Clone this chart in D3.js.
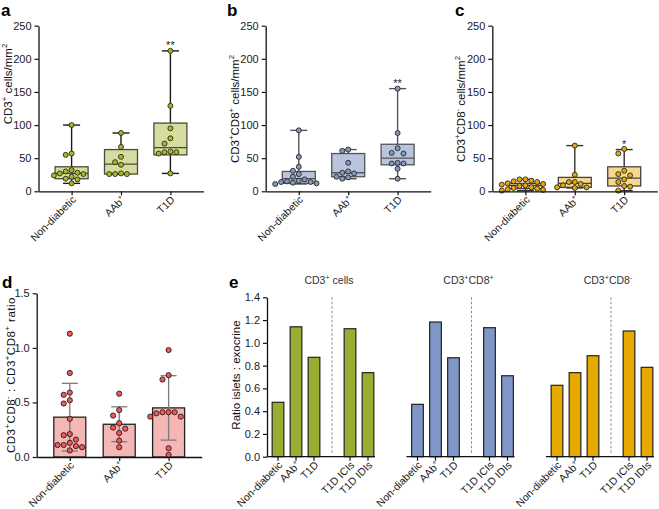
<!DOCTYPE html>
<html><head><meta charset="utf-8">
<script src="https://cdn.jsdelivr.net/npm/d3@7"></script>
<style>
body{margin:0;background:#fff}
svg{display:block;font-family:"Liberation Sans",Arial,Helvetica,sans-serif}
</style>
</head><body>
<svg id="chart" width="659" height="509"></svg>
<script>
// ---------------- DATA ----------------
const groups = ["Non-diabetic", "AAb^+", "T1D"];
const countTicks = [0, 50, 100, 150, 200, 250];

// panel a: CD3+ cells/mm2
const cd3Points = [
  [100, 57, 55, 32, 30, 28, 27, 26, 24, 22, 19, 18, 12],
  [88, 67, 52, 44, 40, 27, 26, 26, 26],
  [212, 129, 95, 80, 72, 60, 59, 59, 57, 27]
];
const cd3Box = [[12, 19, 27, 37, 100], [26, 26, 41, 63, 88], [27, 55, 66, 103, 212]]; // min,q1,med,q3,max
const cd3Sig = ["", "", "**"];

// panel b: CD3+CD8+ cells/mm2
const cd8posPoints = [
  [92, 52, 37, 31, 26, 22, 18, 16, 15, 14, 14, 13, 12, 11],
  [63, 61, 43, 30, 28, 27, 22, 21, 19],
  [155, 88, 65, 58, 57, 43, 42, 42, 34, 19]
];
const cd8posBox = [[11, 12, 19, 30, 92], [19, 22, 28, 57, 63], [19, 40, 50, 71, 155]];
const cd8posSig = ["", "", "**"];

// panel c: CD3+CD8- cells/mm2
const cd8negPoints = [
  [18, 18, 16, 15, 14, 12, 11, 10, 9, 8, 6, 5, 4, 3, 2, 1],
  [69, 25, 14, 14, 11, 9, 6, 6, 5],
  [64, 57, 31, 26, 24, 18, 14, 8, 7, 1]
];
const cd8negBox = [[1, 4, 9, 12, 18], [5, 6, 12, 21, 69], [1, 8, 20, 37, 63]];
const cd8negSig = ["", "", "*"];

// panel d: CD3+CD8- : CD3+CD8+ ratio
const ratioTicks = [0, 0.5, 1.0, 1.5];
const ratioMean = [0.365, 0.30, 0.45];
const ratioSD = [0.31, 0.16, 0.295];
const ratioPoints = [
  [1.13, 0.77, 0.59, 0.57, 0.52, 0.49, 0.35, 0.21, 0.20, 0.16, 0.13, 0.11, 0.11, 0.10, 0.09, 0.06],
  [0.58, 0.43, 0.38, 0.31, 0.27, 0.26, 0.22, 0.15, 0.09],
  [0.98, 0.75, 0.71, 0.41, 0.41, 0.41, 0.40, 0.37, 0.37, 0.08, 0.02]
];

// panel e: ratio islets : exocrine
const eCategories = ["Non-diabetic", "AAb^+", "T1D", "T1D ICIs", "T1D IDIs"];
const eTicks = [0, 0.2, 0.4, 0.6, 0.8, 1.0, 1.2, 1.4];
const eTitles = ["CD3^+ cells", "CD3^+CD8^+", "CD3^+CD8^-"];
const eCD3 = [0.478, 1.141, 0.873, 1.124, 0.738];
const eCD8pos = [0.46, 1.183, 0.869, 1.133, 0.711];
const eCD8neg = [0.627, 0.738, 0.887, 1.104, 0.785];

// ---------------- HELPERS ----------------
const svg = d3.select("#chart");
const FONT_TICK = 11, FONT_LABEL = 10.5, FONT_TITLE = 11.5;

function rich(t, str) {
  const fs = +t.attr("font-size");
  const parts = str.split(/(\^.)/).filter(s => s.length);
  let shifted = false;
  parts.forEach(p => {
    if (p[0] === "^") {
      t.append("tspan").attr("font-size", fs * 0.68).attr("dy", shifted ? 0 : -fs * 0.42).text(p[1]);
      shifted = true;
    } else {
      const s = t.append("tspan").text(p);
      if (shifted) { s.attr("dy", fs * 0.42); shifted = false; }
    }
  });
  return t;
}

function swarm(vals, yScale, cx, r) {
  const placed = [];
  const d = 2 * r + 0.9;
  vals.forEach(v => {
    const py = yScale(v);
    for (let k = 0; k < 60; k++) {
      const off = (k % 2 === 0 ? 1 : -1) * Math.ceil(k / 2) * d;
      const px = cx + off;
      if (placed.every(p => (p.x - px) ** 2 + (p.y - py) ** 2 >= d * d * 0.92)) {
        placed.push({x: px, y: py, v});
        break;
      }
    }
  });
  return placed;
}

function styleAxis(g) {
  g.selectAll("path.domain").attr("stroke", "#111").attr("stroke-width", 1.3);
  g.selectAll(".tick line").attr("stroke", "#111").attr("stroke-width", 1.2);
  g.selectAll(".tick text").attr("font-size", FONT_TICK).attr("fill", "#1a1a1a")
    .attr("font-family", '"Liberation Sans",Arial,sans-serif');
}

function xLabels(g, labels, x, axisY) {
  labels.forEach(l => {
    if (l === "gap") return;
    const t = g.append("text").attr("font-size", FONT_LABEL).attr("fill", "#1a1a1a")
      .attr("text-anchor", "end")
      .attr("transform", `translate(${x(l) + 5},${axisY + 9}) rotate(-45)`);
    rich(t, l);
  });
}

function yTitle(g, str, tx, ty, spacing) {
  const t = g.append("text").attr("font-size", FONT_TITLE).attr("fill", "#111")
    .attr("text-anchor", "middle")
    .attr("transform", `translate(${tx},${ty}) rotate(-90)`);
  if (spacing) t.attr("letter-spacing", spacing);
  rich(t, str);
}

function letter(txt, x, y) {
  svg.append("text").attr("x", x).attr("y", y).attr("font-size", 17).attr("font-weight", "bold")
    .attr("fill", "#000").text(txt);
}

// ---------------- BOX PANELS ----------------
function boxPanel(cfg) {
  const g = svg.append("g");
  const x = d3.scalePoint().domain(groups).range([cfg.x0, cfg.x0 + 165]).padding(0.67);
  const y = d3.scaleLinear().domain([0, 250]).range([191.3, 25.7]);
  const bw = 33, cap = 8.5;

  cfg.stats.forEach((s, i) => {
    const cx = x(groups[i]);
    const [mn, q1, med, q3, mx] = s;
    g.append("line").attr("x1", cx).attr("x2", cx).attr("y1", y(mn)).attr("y2", y(mx))
      .attr("stroke", cfg.line).attr("stroke-width", 1.4);
    [mn, mx].forEach(v => g.append("line").attr("x1", cx - cap).attr("x2", cx + cap)
      .attr("y1", y(v)).attr("y2", y(v)).attr("stroke", cfg.line).attr("stroke-width", 1.4));
    g.append("rect").attr("x", cx - bw / 2).attr("width", bw).attr("y", y(q3)).attr("height", y(q1) - y(q3))
      .attr("fill", cfg.fill).attr("stroke", cfg.boxStroke).attr("stroke-width", 1.3);
    g.append("line").attr("x1", cx - bw / 2).attr("x2", cx + bw / 2).attr("y1", y(med)).attr("y2", y(med))
      .attr("stroke", cfg.boxStroke).attr("stroke-width", 1.3);
  });

  cfg.points.forEach((vals, i) => {
    const pts = swarm(vals, y, x(groups[i]), 2.5);
    g.selectAll(null).data(pts).enter().append("circle")
      .attr("cx", d => d.x).attr("cy", d => d.y).attr("r", 2.5)
      .attr("fill", cfg.dot).attr("stroke", "#2a2a1a").attr("stroke-width", 0.9);
  });

  cfg.sig.forEach((s, i) => {
    if (!s) return;
    g.append("text").attr("x", x(groups[i])).attr("y", y(cfg.stats[i][4]) - 1.5)
      .attr("text-anchor", "middle").attr("font-size", 11).attr("fill", "#222").text(s);
  });

  const ya = g.append("g").attr("transform", `translate(${cfg.x0},0)`)
    .call(d3.axisLeft(y).tickValues(countTicks).tickSize(4).tickSizeOuter(0).tickPadding(3));
  styleAxis(ya);
  const xa = g.append("g").attr("transform", `translate(0,191.3)`)
    .call(d3.axisBottom(x).tickSize(4).tickSizeOuter(0).tickFormat(""));
  styleAxis(xa);
  xLabels(g, groups, x, 191.3);
  yTitle(g, cfg.title, cfg.tx, cfg.ty);
}

boxPanel({x0: 38.5, points: cd3Points, stats: cd3Box, sig: cd3Sig, fill: "#d6dca0", dot: "#a7b62a",
  line: "#1a1a1a", boxStroke: "#4a4a3a", title: "CD3^+ cells/mm^2", tx: 11.5, ty: 84});
boxPanel({x0: 265.7, points: cd8posPoints, stats: cd8posBox, sig: cd8posSig, fill: "#b9c4dd", dot: "#8197c9",
  line: "#555", boxStroke: "#555", title: "CD3^+CD8^+ cells/mm^2", tx: 239, ty: 109});
boxPanel({x0: 492.3, points: cd8negPoints, stats: cd8negBox, sig: cd8negSig, fill: "#f5d98f", dot: "#e6a614",
  line: "#333", boxStroke: "#444", title: "CD3^+CD8^- cells/mm^2", tx: 465, ty: 109});

letter("a", 1, 15.5);
letter("b", 227, 15.5);
letter("c", 455, 15.5);

// ---------------- PANEL D ----------------
(function () {
  const g = svg.append("g");
  const x0 = 36.7;
  const x = d3.scalePoint().domain(groups).range([x0, x0 + 165]).padding(0.67);
  const y = d3.scaleLinear().domain([0, 1.5]).range([457, 293.3]);
  const bw = 32;
  ratioMean.forEach((m, i) => {
    const cx = x(groups[i]);
    g.append("rect").attr("x", cx - bw / 2).attr("width", bw).attr("y", y(m)).attr("height", y(0) - y(m))
      .attr("fill", "#f4b7b6").attr("stroke", "#222").attr("stroke-width", 1.3);
    const lo = m - ratioSD[i], hi = m + ratioSD[i];
    g.append("line").attr("x1", cx).attr("x2", cx).attr("y1", y(lo)).attr("y2", y(hi))
      .attr("stroke", "#7a7a7a").attr("stroke-width", 1.3);
    [lo, hi].forEach(v => g.append("line").attr("x1", cx - 8).attr("x2", cx + 8)
      .attr("y1", y(v)).attr("y2", y(v)).attr("stroke", "#7a7a7a").attr("stroke-width", 1.3));
  });
  ratioPoints.forEach((vals, i) => {
    const pts = swarm(vals, y, x(groups[i]), 2.6);
    g.selectAll(null).data(pts).enter().append("circle")
      .attr("cx", d => d.x).attr("cy", d => d.y).attr("r", 2.6)
      .attr("fill", "#ee5a5c").attr("stroke", "#2a1a1a").attr("stroke-width", 0.9);
  });
  const ya = g.append("g").attr("transform", `translate(${x0},0)`)
    .call(d3.axisLeft(y).tickValues(ratioTicks).tickSize(4).tickSizeOuter(0).tickPadding(3).tickFormat(d3.format(".1f")));
  styleAxis(ya);
  const xa = g.append("g").attr("transform", `translate(0,457)`)
    .call(d3.axisBottom(x).tickSize(4).tickSizeOuter(0).tickFormat(""));
  styleAxis(xa);
  xLabels(g, groups, x, 457);
  yTitle(g, "CD3^+CD8^- : CD3^+CD8^+ ratio", 14.5, 375, 0.5);
})();
letter("d", 2, 288);

// ---------------- PANEL E ----------------
(function () {
  const g = svg.append("g");
  const y = d3.scaleLinear().domain([0, 1.4]).range([456.7, 297.3]);
  const slots = ["Non-diabetic", "AAb^+", "T1D", "gap", "T1D ICIs", "T1D IDIs"];
  const series = [eCD3, eCD8pos, eCD8neg];
  const colors = ["#97ae30", "#7f97c8", "#e6a900"];
  const bw = 11.7;
  series.forEach((vals, gi) => {
    const start = 278 + 139.5 * gi;
    const x = d3.scalePoint().domain(slots).range([start, start + 90]);
    eCategories.forEach((c, i) => {
      const cx = x(c);
      g.append("rect").attr("x", cx - bw / 2).attr("width", bw).attr("y", y(vals[i]))
        .attr("height", y(0) - y(vals[i])).attr("fill", colors[gi])
        .attr("stroke", "#222").attr("stroke-width", 1.2);
    });
    const dx = x("gap");
    g.append("line").attr("x1", dx).attr("x2", dx).attr("y1", y(1.4)).attr("y2", y(0) - 2)
      .attr("stroke", "#8a8a8a").attr("stroke-width", 1).attr("stroke-dasharray", "2.5,2");
    const t = g.append("text").attr("x", dx - 3).attr("y", 284).attr("text-anchor", "middle")
      .attr("font-size", 10.5).attr("fill", "#333");
    rich(t, eTitles[gi]);
    // x axis
    g.append("line").attr("x1", start - 11).attr("x2", x("T1D IDIs") + 7)
      .attr("y1", y(0)).attr("y2", y(0)).attr("stroke", "#111").attr("stroke-width", 1.3);
    eCategories.forEach(c => g.append("line").attr("x1", x(c)).attr("x2", x(c))
      .attr("y1", y(0)).attr("y2", y(0) + 4).attr("stroke", "#111").attr("stroke-width", 1.2));
    xLabels(g, eCategories, x, y(0));
    if (gi === 0) {
      const ya = g.append("g").attr("transform", `translate(${start - 11},0)`)
        .call(d3.axisLeft(y).tickValues(eTicks).tickSize(4).tickSizeOuter(0).tickPadding(3).tickFormat(d3.format(".1f")));
      styleAxis(ya);
    }
  });
  yTitle(g, "Ratio islets : exocrine", 240, 375);
})();
letter("e", 229, 288);
</script>
</body></html>
